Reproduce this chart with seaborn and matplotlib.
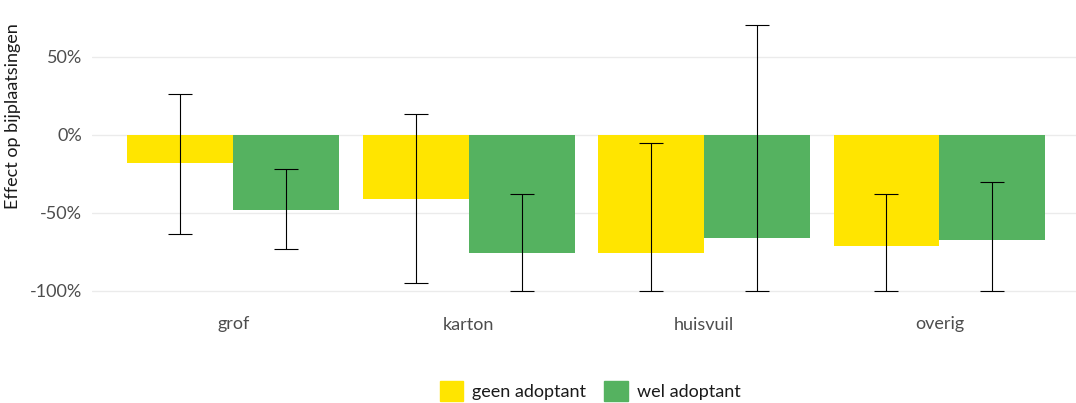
import pandas as pd
import matplotlib.pyplot as plt
import seaborn as sns
from matplotlib.ticker import FuncFormatter

sns.set_theme(style="whitegrid")
plt.rcParams['font.family'] = ['Lato', 'DejaVu Sans']

# Data (effect in %)
categories = ['grof', 'karton', 'huisvuil', 'overig']
groups = ['geen adoptant', 'wel adoptant']
geen_effect = [-18, -41, -75.5, -71.5]
geen_low = [-63.5, -95, -100, -100]
geen_high = [26, 13.5, -5, -38]
wel_effect = [-48, -75.5, -66.5, -67.5]
wel_low = [-73.5, -100, -100, -100]
wel_high = [-22, -38, 70.5, -30.5]

df = pd.DataFrame({
    'categorie': categories * 2,
    'groep': [groups[0]] * 4 + [groups[1]] * 4,
    'effect': geen_effect + wel_effect,
    'low': geen_low + wel_low,
    'high': geen_high + wel_high,
})

colors = {'geen adoptant': '#FFE500', 'wel adoptant': '#55B260'}

fig = plt.figure(figsize=(10.76, 4.03), dpi=100)
ax = fig.add_axes([92 / 1076, 1 - 304 / 403, 984 / 1076, 293 / 403])

sns.barplot(data=df, x='categorie', y='effect', hue='groep', order=categories,
            hue_order=groups, palette=colors, width=0.9, saturation=1,
            errorbar=None, linewidth=0, ax=ax, legend=False)

# error bars at the bar centres
for patch_group, grp in zip(ax.containers, groups):
    sub = df[df['groep'] == grp].set_index('categorie').loc[categories]
    xs = [p.get_x() + p.get_width() / 2 for p in patch_group]
    ys = sub['effect'].values
    yerr = [ys - sub['low'].values, sub['high'].values - ys]
    ax.errorbar(xs, ys, yerr=yerr, fmt='none', ecolor='black',
                elinewidth=0.8, capsize=8.5, capthick=0.8)

ax.set_xlim(-0.6, 3.58)
ax.set_ylim(-108.5, 79.3)
ax.set_yticks([-100, -50, 0, 50])
ax.yaxis.set_major_formatter(FuncFormatter(lambda v, _: f"{int(v)}%"))
ax.grid(axis='x', visible=False)
ax.grid(axis='y', color='#ebebeb', linewidth=1)
for s in ax.spines.values():
    s.set_visible(False)
ax.tick_params(axis='both', length=0, labelsize=13, labelcolor='#4d4d4d')
ax.tick_params(axis='y', pad=7)
ax.tick_params(axis='x', pad=9)
ax.set_xlabel('')
ax.set_ylabel('Effect op bijplaatsingen', fontsize=13, color='#1a1a1a')
ax.yaxis.set_label_coords(-0.072, 0.64)

handles = [plt.Rectangle((0, 0), 1, 1, color=colors[g]) for g in groups]
fig.legend(handles, groups, loc='center', bbox_to_anchor=(590 / 1076, 1 - 391 / 403),
           ncol=2, frameon=False, fontsize=13, handlelength=1.3, handleheight=1.3,
           handletextpad=0.5, columnspacing=1.0, labelcolor='#1a1a1a')

fig.savefig('out.png', dpi=100)
